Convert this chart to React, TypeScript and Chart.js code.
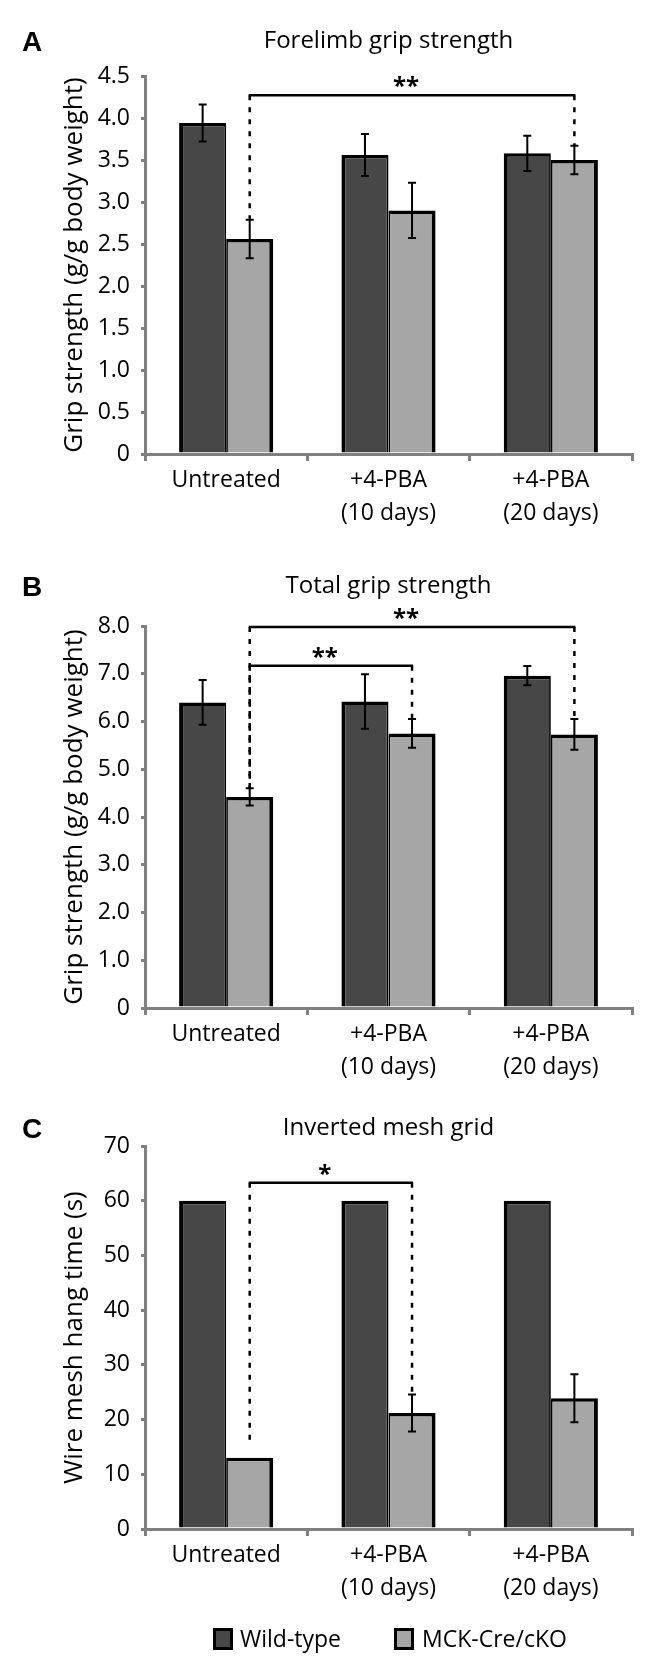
import React, { useEffect, useRef } from 'react';
import { Chart, registerables } from 'chart.js';

Chart.register(...registerables);

// ---------- data ----------
const categories: (string | string[])[] = ['Untreated', ['+4-PBA', '(10 days)'], ['+4-PBA', '(20 days)']];
const seriesNames = ['Wild-type', 'MCK-Cre/cKO'];

const forelimbWT = [3.94, 3.56, 3.58];
const forelimbWTErr = [0.22, 0.25, 0.21];
const forelimbKO = [2.56, 2.9, 3.5];
const forelimbKOErr = [0.23, 0.33, 0.17];
const forelimbTicks = [0, 4.5, 0.5];

const totalWT = [6.4, 6.42, 6.96];
const totalWTErr = [0.47, 0.57, 0.2];
const totalKO = [4.42, 5.75, 5.73];
const totalKOErr = [0.18, 0.3, 0.32];
const totalTicks = [0, 8, 1];

const meshWT = [60, 60, 60];
const meshWTErr = [0, 0, 0];
const meshKO = [13.0, 21.2, 23.9];
const meshKOErr = [0, 3.4, 4.4];
const meshTicks = [0, 70, 10];

// brackets: [fromCategory, toCategory, level, fromEnd, toEnd, label]
const forelimbBrackets: [number, number, number, number, number, string][] = [[0, 2, 4.27, 2.8, 3.66, '**']];
const totalBrackets: [number, number, number, number, number, string][] = [
  [0, 2, 7.98, 4.6, 6.05, '**'],
  [0, 1, 7.17, 4.6, 6.05, '**'],
];
const meshBrackets: [number, number, number, number, number, string][] = [[0, 1, 63.3, 15.7, 24.6, '*']];

// ---------- style ----------
const FONT = '"Open Sans", "Noto Sans", sans-serif';
const DARK = '#474747';
const LIGHT = '#a6a6a6';
const AXIS = '#808080';

interface Panel {
  letter: string;
  title: string;
  yTitle: string;
  wt: number[];
  wtErr: number[];
  ko: number[];
  koErr: number[];
  ticks: number[];
  decimals: boolean;
  brackets: [number, number, number, number, number, string][];
  top: number;
  height: number;
  padTop: number;
  xHeight: number;
  titleBase: number;
  legend: boolean;
}

const PANELS: Panel[] = [
  {
    letter: 'A', title: 'Forelimb grip strength', yTitle: 'Grip strength (g/g body weight)',
    wt: forelimbWT, wtErr: forelimbWTErr, ko: forelimbKO, koErr: forelimbKOErr, ticks: forelimbTicks, decimals: true,
    brackets: forelimbBrackets, top: 0, height: 540, padTop: 76, xHeight: 86, titleBase: 48, legend: false,
  },
  {
    letter: 'B', title: 'Total grip strength', yTitle: 'Grip strength (g/g body weight)',
    wt: totalWT, wtErr: totalWTErr, ko: totalKO, koErr: totalKOErr, ticks: totalTicks, decimals: true,
    brackets: totalBrackets, top: 540, height: 555, padTop: 86, xHeight: 87, titleBase: 53, legend: false,
  },
  {
    letter: 'C', title: 'Inverted mesh grid', yTitle: 'Wire mesh hang time (s)',
    wt: meshWT, wtErr: meshWTErr, ko: meshKO, koErr: meshKOErr, ticks: meshTicks, decimals: false,
    brackets: meshBrackets, top: 1095, height: 570, padTop: 51, xHeight: 136, titleBase: 40, legend: true,
  },
];

function makeChart(canvas: HTMLCanvasElement, p: Panel) {
  const overlay = {
    id: 'overlay' + p.letter,
    afterDraw(chart: any) {
      const ctx = chart.ctx as CanvasRenderingContext2D;
      const ys = chart.scales.y;
      const area = chart.chartArea;
      ctx.save();
      // error bars
      const errs = [p.wtErr, p.koErr];
      const vals = [p.wt, p.ko];
      ctx.strokeStyle = '#000';
      ctx.lineWidth = 2;
      ctx.setLineDash([]);
      for (let d = 0; d < 2; d++) {
        const meta = chart.getDatasetMeta(d);
        meta.data.forEach((bar: any, i: number) => {
          const e = errs[d][i];
          if (!e) return;
          const x = bar.x;
          const y1 = ys.getPixelForValue(vals[d][i] + e);
          const y2 = ys.getPixelForValue(vals[d][i] - e);
          ctx.beginPath();
          ctx.moveTo(x, y1); ctx.lineTo(x, y2);
          ctx.moveTo(x - 4, y1); ctx.lineTo(x + 4, y1);
          ctx.moveTo(x - 4, y2); ctx.lineTo(x + 4, y2);
          ctx.stroke();
        });
      }
      // brackets
      const koMeta = chart.getDatasetMeta(1);
      p.brackets.forEach(([a, b, level, endA, endB, label]) => {
        const x0 = koMeta.data[a].x;
        const x1 = koMeta.data[b].x;
        const yl = ys.getPixelForValue(level);
        ctx.strokeStyle = '#000';
        ctx.setLineDash([]);
        ctx.lineWidth = 2.5;
        ctx.beginPath();
        ctx.moveTo(x0 - 1, yl); ctx.lineTo(x1 + 1, yl);
        ctx.stroke();
        ctx.lineWidth = 2.5;
        ctx.setLineDash([5, 7]);
        ctx.beginPath();
        ctx.moveTo(x0, yl); ctx.lineTo(x0, ys.getPixelForValue(endA));
        ctx.moveTo(x1, yl); ctx.lineTo(x1, ys.getPixelForValue(endB));
        ctx.stroke();
        ctx.setLineDash([]);
        ctx.fillStyle = '#000';
        ctx.font = `bold 24px ${FONT}`;
        ctx.textAlign = 'center';
        ctx.textBaseline = 'alphabetic';
        ctx.fillText(label, (x0 + x1) / 2 - 6, yl - 1);
      });
      // title and letter
      ctx.fillStyle = '#000';
      ctx.font = `24px ${FONT}`;
      ctx.textAlign = 'center';
      ctx.textBaseline = 'alphabetic';
      ctx.fillText(p.title, (area.left + area.right) / 2, p.titleBase);
      ctx.font = `bold 28px "Liberation Sans", Arial, sans-serif`;
      ctx.textAlign = 'left';
      ctx.fillText(p.letter, 22, p.titleBase + 3);
      // legend
      if (p.legend) {
        const items = [[213, 240, DARK], [394, 422, LIGHT]] as [number, number, string][];
        items.forEach(([bx, tx, col], i) => {
          ctx.fillStyle = '#000';
          ctx.fillRect(bx, 533, 20, 22);
          ctx.fillStyle = col;
          ctx.fillRect(bx + 3, 536, 14, 16);
          ctx.fillStyle = '#000';
          ctx.font = `23px ${FONT}`;
          ctx.textAlign = 'left';
          ctx.fillText(seriesNames[i], tx, 552);
        });
      }
      ctx.restore();
    },
  };

  const tickFont = { family: FONT, size: 23, lineHeight: 1.43 };
  return new Chart(canvas, {
    type: 'bar',
    data: {
      labels: categories as any,
      datasets: [
        {
          label: seriesNames[0], data: p.wt, backgroundColor: DARK, borderColor: '#000',
          borderWidth: { top: 3.5, left: 4, right: 1.75, bottom: 0 } as any, borderSkipped: false,
          categoryPercentage: 0.58, barPercentage: 1,
        },
        {
          label: seriesNames[1], data: p.ko, backgroundColor: LIGHT, borderColor: '#000',
          borderWidth: { top: 3.5, left: 1.75, right: 4, bottom: 0 } as any, borderSkipped: false,
          categoryPercentage: 0.58, barPercentage: 1,
        },
      ],
    },
    options: {
      responsive: false,
      maintainAspectRatio: false,
      animation: false,
      devicePixelRatio: 1,
      layout: { padding: { top: p.padTop, left: 0, right: 29, bottom: 0 } },
      plugins: { legend: { display: false }, title: { display: false }, tooltip: { enabled: false } },
      scales: {
        x: {
          z: 1,
          grid: { display: true, drawOnChartArea: false, drawTicks: true, tickLength: 7, color: AXIS, lineWidth: 3, offset: true },
          border: { display: true, color: AXIS, width: 3 },
          ticks: { color: '#000', font: tickFont, padding: 3, maxRotation: 0, autoSkip: false },
          afterFit: (s: any) => { s.height = p.xHeight; },
        },
        y: {
          z: 1,
          min: p.ticks[0],
          max: p.ticks[1],
          ticks: {
            stepSize: p.ticks[2],
            color: '#000',
            font: { family: FONT, size: 23 },
            padding: 11,
            callback: (v: any) => (Number(v) === 0 ? '0' : p.decimals ? Number(v).toFixed(1) : String(v)),
          },
          grid: { display: true, drawOnChartArea: false, tickLength: 4, color: AXIS, lineWidth: 3 },
          border: { display: true, color: AXIS, width: 3 },
          title: { display: true, text: p.yTitle, color: '#000', font: { family: FONT, size: 26 }, padding: { top: 59, bottom: 0 } },
          afterFit: (s: any) => { s.width = 145; },
        },
      },
    },
    plugins: [overlay],
  } as any);
}

export default function App() {
  const r0 = useRef<HTMLCanvasElement>(null);
  const r1 = useRef<HTMLCanvasElement>(null);
  const r2 = useRef<HTMLCanvasElement>(null);
  const refs = [r0, r1, r2];
  useEffect(() => {
    const charts = PANELS.map((p, i) => makeChart(refs[i].current as HTMLCanvasElement, p));
    return () => charts.forEach((c) => c.destroy());
  }, []);
  return (
    <div style={{ position: 'absolute', left: 0, top: 0, width: 661, height: 1665, background: '#fff' }}>
      {PANELS.map((p, i) => (
        <canvas
          key={i}
          ref={refs[i]}
          width={661}
          height={p.height}
          style={{ position: 'absolute', left: 0, top: p.top, width: 661, height: p.height }}
        />
      ))}
    </div>
  );
}
